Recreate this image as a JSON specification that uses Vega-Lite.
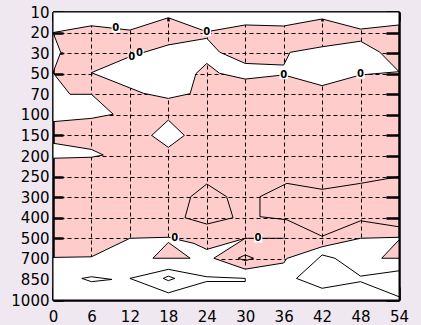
{
  "$schema": "https://vega.github.io/schema/vega-lite/v6.json",
  "width": 346,
  "height": 288,
  "autosize": "none",
  "padding": {"left": 53, "top": 12, "right": 22, "bottom": 25},
  "background": "#efe8f0",
  "config": {
    "view": {"fill": "#ffcccc", "stroke": null},
    "axis": {"labelFont": "DejaVu Sans", "labelFontSize": 15, "labelColor": "black", "domainColor": "black", "domainWidth": 2.5, "domainOpacity": 1, "tickColor": "black", "tickWidth": 2.5, "tickOpacity": 1, "gridColor": "black", "gridDash": [4, 3], "gridOpacity": 1, "gridWidth": 1, "zindex": 1, "title": null}
  },
  "datasets": {
    "white": [
      {"id": "w1", "o": 1, "x": 0, "y": 0}, {"id": "w1", "o": 2, "x": 0, "y": 1.0}, {"id": "w1", "o": 3, "x": 6, "y": 0.67}, {"id": "w1", "o": 4, "x": 12, "y": 0.88}, {"id": "w1", "o": 5, "x": 18, "y": 0.28}, {"id": "w1", "o": 6, "x": 24, "y": 0.96}, {"id": "w1", "o": 7, "x": 30, "y": 0.63}, {"id": "w1", "o": 8, "x": 36, "y": 0.68}, {"id": "w1", "o": 9, "x": 42, "y": 0.34}, {"id": "w1", "o": 10, "x": 48, "y": 0.83}, {"id": "w1", "o": 11, "x": 54, "y": 0.63}, {"id": "w1", "o": 12, "x": 54, "y": 0}, {"id": "w1", "o": 13, "x": 0, "y": 0},
      {"id": "w2", "o": 1, "x": 0, "y": 1.0}, {"id": "w2", "o": 2, "x": 1.2, "y": 1.96}, {"id": "w2", "o": 3, "x": 0, "y": 2.95}, {"id": "w2", "o": 4, "x": 0, "y": 1.0},
      {"id": "w3", "o": 1, "x": 0, "y": 2.95}, {"id": "w3", "o": 2, "x": 2.65, "y": 4.0}, {"id": "w3", "o": 3, "x": 6, "y": 4.0}, {"id": "w3", "o": 4, "x": 9.4, "y": 4.97}, {"id": "w3", "o": 5, "x": 6, "y": 5.17}, {"id": "w3", "o": 6, "x": 0, "y": 5.33}, {"id": "w3", "o": 7, "x": 0, "y": 2.95},
      {"id": "w4", "o": 1, "x": 0, "y": 6.38}, {"id": "w4", "o": 2, "x": 6, "y": 6.68}, {"id": "w4", "o": 3, "x": 7.85, "y": 6.95}, {"id": "w4", "o": 4, "x": 6, "y": 7.06}, {"id": "w4", "o": 5, "x": 0, "y": 7.11}, {"id": "w4", "o": 6, "x": 0, "y": 6.38},
      {"id": "w5", "o": 1, "x": 15.4, "y": 6.0}, {"id": "w5", "o": 2, "x": 18, "y": 5.25}, {"id": "w5", "o": 3, "x": 20.5, "y": 6.0}, {"id": "w5", "o": 4, "x": 18, "y": 6.58}, {"id": "w5", "o": 5, "x": 15.4, "y": 6.0},
      {"id": "w6", "o": 1, "x": 6, "y": 2.95}, {"id": "w6", "o": 2, "x": 12, "y": 2.17}, {"id": "w6", "o": 3, "x": 18, "y": 1.6}, {"id": "w6", "o": 4, "x": 24, "y": 1.28}, {"id": "w6", "o": 5, "x": 26, "y": 1.95}, {"id": "w6", "o": 6, "x": 30, "y": 2.5}, {"id": "w6", "o": 7, "x": 36, "y": 2.58}, {"id": "w6", "o": 8, "x": 37, "y": 1.96}, {"id": "w6", "o": 9, "x": 42, "y": 1.69}, {"id": "w6", "o": 10, "x": 48, "y": 1.42}, {"id": "w6", "o": 11, "x": 51, "y": 1.95}, {"id": "w6", "o": 12, "x": 54, "y": 2.9}, {"id": "w6", "o": 13, "x": 48, "y": 3.06}, {"id": "w6", "o": 14, "x": 42, "y": 3.58}, {"id": "w6", "o": 15, "x": 36, "y": 3.06}, {"id": "w6", "o": 16, "x": 30, "y": 3.26}, {"id": "w6", "o": 17, "x": 26, "y": 2.98}, {"id": "w6", "o": 18, "x": 24, "y": 2.5}, {"id": "w6", "o": 19, "x": 22.3, "y": 3.0}, {"id": "w6", "o": 20, "x": 21.4, "y": 3.97}, {"id": "w6", "o": 21, "x": 18, "y": 4.2}, {"id": "w6", "o": 22, "x": 14.1, "y": 3.95}, {"id": "w6", "o": 23, "x": 6, "y": 2.95},
      {"id": "w7", "o": 1, "x": 0, "y": 11.93}, {"id": "w7", "o": 2, "x": 6, "y": 11.9}, {"id": "w7", "o": 3, "x": 12, "y": 11.0}, {"id": "w7", "o": 4, "x": 18, "y": 10.95}, {"id": "w7", "o": 5, "x": 22, "y": 11.25}, {"id": "w7", "o": 6, "x": 24, "y": 11.54}, {"id": "w7", "o": 7, "x": 30, "y": 11.0}, {"id": "w7", "o": 8, "x": 25.1, "y": 11.97}, {"id": "w7", "o": 9, "x": 30, "y": 12.5}, {"id": "w7", "o": 10, "x": 36, "y": 12.2}, {"id": "w7", "o": 11, "x": 36.5, "y": 11.98}, {"id": "w7", "o": 12, "x": 42, "y": 11.41}, {"id": "w7", "o": 13, "x": 48, "y": 11.0}, {"id": "w7", "o": 14, "x": 54, "y": 10.95}, {"id": "w7", "o": 15, "x": 54, "y": 14}, {"id": "w7", "o": 16, "x": 0, "y": 14}, {"id": "w7", "o": 17, "x": 0, "y": 11.93}
    ],
    "pink": [
      {"id": "p1", "o": 1, "x": 15.6, "y": 11.97}, {"id": "p1", "o": 2, "x": 18, "y": 11.2}, {"id": "p1", "o": 3, "x": 21.4, "y": 11.97}, {"id": "p1", "o": 4, "x": 15.6, "y": 11.97},
      {"id": "p2", "o": 1, "x": 54, "y": 11.08}, {"id": "p2", "o": 2, "x": 51.3, "y": 11.97}, {"id": "p2", "o": 3, "x": 54, "y": 11.97}, {"id": "p2", "o": 4, "x": 54, "y": 11.08}
    ],
    "lines": [
      {"id": "l1", "o": 1, "x": 4.5, "y": 12.95}, {"id": "l1", "o": 2, "x": 6, "y": 12.87}, {"id": "l1", "o": 3, "x": 9.2, "y": 13.0}, {"id": "l1", "o": 4, "x": 6, "y": 13.11}, {"id": "l1", "o": 5, "x": 4.5, "y": 12.95},
      {"id": "l2", "o": 1, "x": 12, "y": 12.95}, {"id": "l2", "o": 2, "x": 18, "y": 12.51}, {"id": "l2", "o": 3, "x": 24, "y": 12.87}, {"id": "l2", "o": 4, "x": 30, "y": 12.95}, {"id": "l2", "o": 5, "x": 30, "y": 13.1}, {"id": "l2", "o": 6, "x": 24, "y": 13.1}, {"id": "l2", "o": 7, "x": 18, "y": 13.65}, {"id": "l2", "o": 8, "x": 12, "y": 12.95},
      {"id": "l3", "o": 1, "x": 17.2, "y": 12.95}, {"id": "l3", "o": 2, "x": 18, "y": 12.84}, {"id": "l3", "o": 3, "x": 19, "y": 12.95}, {"id": "l3", "o": 4, "x": 18, "y": 13.06}, {"id": "l3", "o": 5, "x": 17.2, "y": 12.95},
      {"id": "l4", "o": 1, "x": 54, "y": 12.58}, {"id": "l4", "o": 2, "x": 48, "y": 12.84}, {"id": "l4", "o": 3, "x": 44, "y": 11.97}, {"id": "l4", "o": 4, "x": 42, "y": 11.81}, {"id": "l4", "o": 5, "x": 38, "y": 12.95}, {"id": "l4", "o": 6, "x": 42, "y": 13.43}, {"id": "l4", "o": 7, "x": 48, "y": 13.11}, {"id": "l4", "o": 8, "x": 54, "y": 13.84},
      {"id": "l5", "o": 1, "x": 24, "y": 8.36}, {"id": "l5", "o": 2, "x": 27.1, "y": 8.98}, {"id": "l5", "o": 3, "x": 28.1, "y": 10.0}, {"id": "l5", "o": 4, "x": 24, "y": 10.31}, {"id": "l5", "o": 5, "x": 20.6, "y": 10.0}, {"id": "l5", "o": 6, "x": 21.5, "y": 8.98}, {"id": "l5", "o": 7, "x": 24, "y": 8.36},
      {"id": "l6", "o": 1, "x": 54, "y": 8.0}, {"id": "l6", "o": 2, "x": 48, "y": 8.33}, {"id": "l6", "o": 3, "x": 42, "y": 8.62}, {"id": "l6", "o": 4, "x": 36.5, "y": 8.33}, {"id": "l6", "o": 5, "x": 32.3, "y": 8.98}, {"id": "l6", "o": 6, "x": 32.3, "y": 9.95}, {"id": "l6", "o": 7, "x": 36.5, "y": 10.1}, {"id": "l6", "o": 8, "x": 42, "y": 10.9}, {"id": "l6", "o": 9, "x": 48, "y": 10.15}, {"id": "l6", "o": 10, "x": 54, "y": 10.44},
      {"id": "l7", "o": 1, "x": 28.9, "y": 11.97}, {"id": "l7", "o": 2, "x": 30, "y": 11.81}, {"id": "l7", "o": 3, "x": 31.3, "y": 11.97}, {"id": "l7", "o": 4, "x": 30, "y": 12.09}, {"id": "l7", "o": 5, "x": 28.9, "y": 11.97},
      {"id": "l8", "o": 1, "x": 30, "y": 11.0}, {"id": "l8", "o": 2, "x": 36, "y": 11.0}
    ],
    "labels": [
      {"x": 9.8, "y": 0.8, "t": "0"},
      {"x": 12.3, "y": 2.17, "t": "0"},
      {"x": 13.5, "y": 2.0, "t": "0"},
      {"x": 24, "y": 0.96, "t": "0"},
      {"x": 36, "y": 3.06, "t": "0"},
      {"x": 48, "y": 3.02, "t": "0"},
      {"x": 19, "y": 11.0, "t": "0"},
      {"x": 32, "y": 11.0, "t": "0"}
    ]
  },
  "layer": [
    {
      "data": {"name": "white"},
      "mark": {"type": "line", "fill": "white", "stroke": "black", "strokeWidth": 1, "interpolate": "linear"},
      "encoding": {
        "x": {"field": "x", "type": "quantitative", "scale": {"domain": [0, 54], "nice": false, "zero": false}, "axis": {"orient": "bottom", "values": [0, 6, 12, 18, 24, 30, 36, 42, 48, 54], "ticks": true, "tickSize": -13, "tickColor": "#000000", "grid": true, "labelPadding": 22, "labelFlush": false, "labelOverlap": false}},
        "y": {"field": "y", "type": "quantitative", "scale": {"domain": [0, 14], "nice": false, "zero": false, "reverse": true}, "axis": {"orient": "left", "values": [0, 1, 2, 3, 4, 5, 6, 7, 8, 9, 10, 11, 12, 13, 14], "ticks": true, "tickSize": -10, "tickColor": "#000000", "grid": true, "labelPadding": 14, "labelFlush": false, "labelOverlap": false, "labelExpr": "['10','20','30','50','70','100','150','200','250','300','400','500','700','850','1000'][datum.value]"}},
        "order": {"field": "o", "type": "quantitative"},
        "detail": {"field": "id", "type": "nominal"}
      }
    },
    {
      "data": {"name": "pink"},
      "mark": {"type": "line", "fill": "#ffcccc", "stroke": "black", "strokeWidth": 1},
      "encoding": {
        "x": {"field": "x", "type": "quantitative", "axis": {"orient": "top", "values": [0, 6, 12, 18, 24, 30, 36, 42, 48, 54], "labels": false, "grid": false, "ticks": true, "tickSize": -9, "tickColor": "#000000", "domain": true}},
        "y": {"field": "y", "type": "quantitative", "axis": {"orient": "right", "values": [0, 1, 2, 3, 4, 5, 6, 7, 8, 9, 10, 11, 12, 13, 14], "labels": false, "grid": false, "ticks": true, "tickSize": -13, "tickColor": "#000000", "domain": true}},
        "order": {"field": "o", "type": "quantitative"},
        "detail": {"field": "id", "type": "nominal"}
      }
    },
    {
      "data": {"name": "lines"},
      "mark": {"type": "line", "stroke": "black", "strokeWidth": 1},
      "encoding": {
        "x": {"field": "x", "type": "quantitative", "axis": null},
        "y": {"field": "y", "type": "quantitative", "axis": null},
        "order": {"field": "o", "type": "quantitative"},
        "detail": {"field": "id", "type": "nominal"}
      }
    },
    {
      "data": {"name": "labels"},
      "mark": {"type": "square", "size": 70, "color": "white", "opacity": 1, "filled": true},
      "encoding": {
        "x": {"field": "x", "type": "quantitative", "axis": null},
        "y": {"field": "y", "type": "quantitative", "axis": null}
      }
    },
    {
      "data": {"name": "labels"},
      "mark": {"type": "text", "font": "DejaVu Sans", "fontSize": 10, "fontWeight": "bold", "color": "black", "baseline": "middle", "align": "center"},
      "encoding": {
        "x": {"field": "x", "type": "quantitative", "axis": null},
        "y": {"field": "y", "type": "quantitative", "axis": null},
        "text": {"field": "t", "type": "nominal"}
      }
    }
  ],
  "resolve": {"axis": {"x": "independent", "y": "independent"}}
}
